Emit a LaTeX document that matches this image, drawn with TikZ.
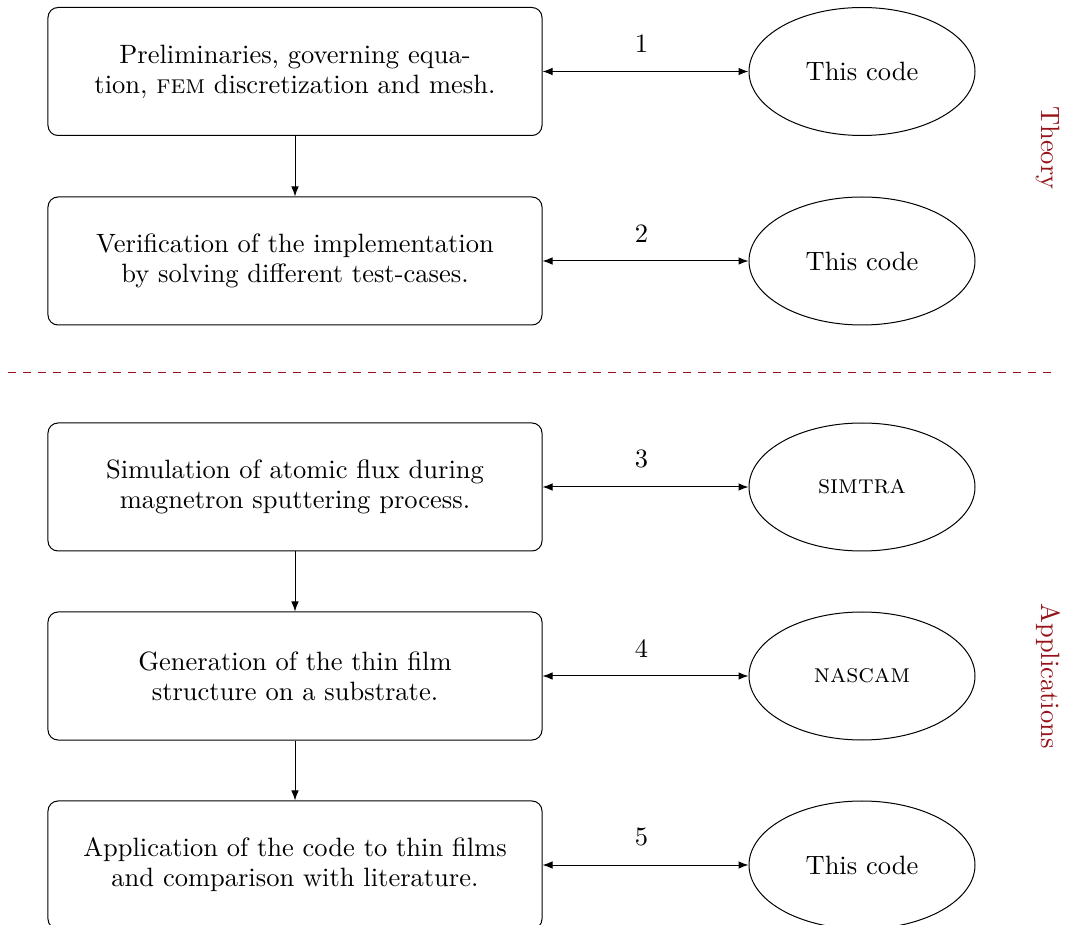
\documentclass[tikz,border=0pt]{standalone}
\usetikzlibrary{shapes.geometric,arrows.meta}
\definecolor{secred}{RGB}{150,18,26}
\begin{document}
\begin{tikzpicture}[x=0.4pt,y=-0.4pt,
  every node/.style={font=\fontsize{10.6}{12}\selectfont},
  stepbox/.style={draw,rounded corners=4pt,minimum width=197.6pt,minimum height=51.2pt,align=center,inner sep=0pt},
  codeell/.style={draw,ellipse,minimum width=90.4pt,minimum height=51.2pt,inner sep=0pt},
  link/.style={{Latex[length=4pt,width=3pt]}-{Latex[length=4pt,width=3pt]}},
  flow/.style={-{Latex[length=4pt,width=3pt]}},
  num/.style={pos=0.48,above=4pt},
  side/.style={text=secred,rotate=-90}]
\useasboundingbox (0,0) rectangle (1068,925);
\node[stepbox] (b1) at (295,71.5) {Preliminaries, governing equa-\\tion, \textsc{fem} discretization and mesh.};
\node[stepbox] (b2) at (295,261) {Verification of the implementation\\by solving different test-cases.};
\node[stepbox] (b3) at (295,487) {Simulation of atomic flux during\\magnetron sputtering process.};
\node[stepbox] (b4) at (295,676) {Generation of the thin film\\structure on a substrate.};
\node[stepbox] (b5) at (295,865) {Application of the code to thin films\\and comparison with literature.};
\node[codeell] (e1) at (862,71.5) {This code};
\node[codeell] (e2) at (862,261) {This code};
\node[codeell] (e3) at (862,487) {\textsc{simtra}};
\node[codeell] (e4) at (862,676) {\textsc{nascam}};
\node[codeell] (e5) at (862,865) {This code};
\draw[link] (b1) -- node[num] (n1) {1} (e1);
\draw[link] (b2) -- node[num] (n2) {2} (e2);
\draw[link] (b3) -- node[num] (n3) {3} (e3);
\draw[link] (b4) -- node[num] (n4) {4} (e4);
\draw[link] (b5) -- node[num] (n5) {5} (e5);
\draw[flow] (b1) -- (b2);
\draw[flow] (b3) -- (b4);
\draw[flow] (b4) -- (b5);
\coordinate (dl) at (8,373);
\coordinate (dr) at (1058,373);
\draw[secred,dashed] (dl) -- (dr);
\node[side] (th) at (1048,148) {Theory};
\node[side] (ap) at (1048,676) {Applications};
\end{tikzpicture}
\end{document}
